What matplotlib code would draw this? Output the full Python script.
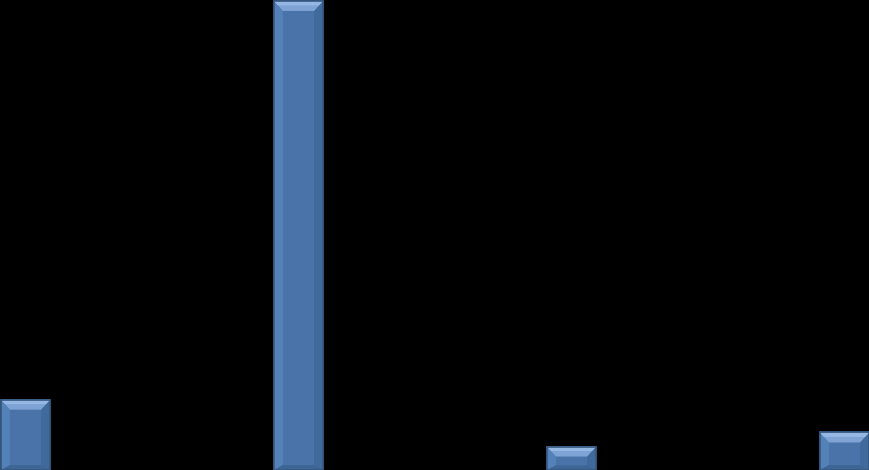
import matplotlib
matplotlib.use("Agg")
import matplotlib.pyplot as plt
from matplotlib.patches import Polygon

categories = ["A", "B", "C", "D"]
values = [15, 100, 5, 8]

W, H = 869, 470
fig = plt.figure(figsize=(W / 100, H / 100), dpi=100, facecolor="black")
ax = fig.add_axes([0, 0, 1, 1])
ax.set_facecolor("black")
x = list(range(len(categories)))
bars = ax.bar(x, values, width=0.18, color="#4a74a9", edgecolor="#35577f", linewidth=1.2, zorder=2)
xl = (-0.0934, 3.0897)
yl = (0, 100.2)
ax.set_xlim(*xl)
ax.set_ylim(*yl)
ax.axis("off")

px = (xl[1] - xl[0]) / W
py = (yl[1] - yl[0]) / H
for r in bars:
    x0, y0 = r.get_x(), r.get_y()
    w, h = r.get_width(), r.get_height()
    x1, y1 = x0 + w, y0 + h
    bx = 9 * px
    bt = min(10 * py, h * 0.45)
    bb = min(5 * py, h * 0.2)
    ix0, ix1 = x0 + bx, x1 - bx
    iy0, iy1 = y0 + bb, y1 - bt
    # left bevel
    ax.add_patch(Polygon([(x0, y1), (ix0, iy1), (ix0, iy0), (x0, y0)], closed=True,
                         facecolor="#5381b8", edgecolor="none", zorder=3))
    # right bevel
    ax.add_patch(Polygon([(x1, y1), (ix1, iy1), (ix1, iy0), (x1, y0)], closed=True,
                         facecolor="#416a9c", edgecolor="none", zorder=3))
    # bottom bevel
    ax.add_patch(Polygon([(x0, y0), (x1, y0), (ix1, iy0), (ix0, iy0)], closed=True,
                         facecolor="#3d6596", edgecolor="none", zorder=3))
    # top bevel (gradient-like in two bands)
    ax.add_patch(Polygon([(x0, y1), (x1, y1), (ix1, iy1), (ix0, iy1)], closed=True,
                         facecolor="#7ea3d4", edgecolor="none", zorder=3))
    ax.add_patch(Polygon([(x0, y1), (x1, y1), (x1 - bx * 0.45, y1 - bt * 0.45), (x0 + bx * 0.45, y1 - bt * 0.45)],
                         closed=True, facecolor="#95b7e3", edgecolor="none", zorder=3))
    # outline
    ax.add_patch(Polygon([(x0, y0), (x1, y0), (x1, y1), (x0, y1)], closed=True,
                         facecolor="none", edgecolor="#35577f", linewidth=1.2, zorder=4))

fig.savefig("out.png", dpi=100, facecolor="black")
